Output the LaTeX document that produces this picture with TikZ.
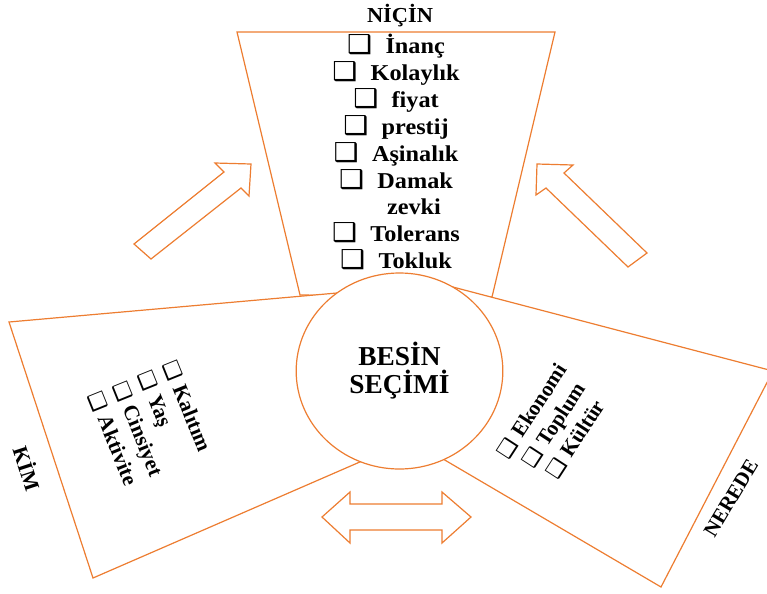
\documentclass[tikz,border=0pt]{standalone}
\usepackage{fontspec}
\usepackage{graphicx}
\setmainfont{Liberation Serif}
\newfontfamily\symfont{DejaVu Sans}
\usetikzlibrary{shapes.geometric}
\definecolor{accent}{HTML}{ED7D31}
% shadowed ballot boxes used in front of the list entries
\newcommand{\cbox}{\scalebox{1.15}{\symfont\bfseries\char"2751}}
\newcommand{\smallcbox}{{\symfont\bfseries\char"2751}}

\begin{document}
\begin{tikzpicture}[x=0.75pt,y=-0.75pt,
  panel/.style={draw=accent, fill=white, line width=0.9pt, line join=miter},
  hollowarrow/.style={draw=accent, fill=white, line width=0.9pt, line join=miter},
  heading/.style={font=\fontsize{16}{18}\selectfont\bfseries, inner sep=0},
  topitem/.style={font=\fontsize{17}{20}\selectfont\bfseries, inner sep=0, anchor=base, xscale=1.07},
  sidelist/.style={font=\fontsize{16}{20}\selectfont\bfseries, inner sep=0},
]
\useasboundingbox (0,0) rectangle (767,593);

% three panels around the centre
\draw[panel] (237,32) -- (555,32) -- (492,297) -- (300,295) -- cycle;
\draw[panel] (9,322) -- (380,289.2) -- (392,448) -- (93,578) -- cycle;
\draw[panel] (425,279.7) -- (773,371) -- (661,587) -- (410,439.6) -- cycle;

% hollow block arrows
\draw[hollowarrow] (134,244) -- (224,172) -- (215,163) -- (251,164) -- (249,196) -- (241,188) -- (151,259) -- cycle;
\draw[hollowarrow] (537,164) -- (573,165) -- (564,173) -- (647,253) -- (628,267) -- (546,188) -- (536,195) -- cycle;
\draw[hollowarrow] (322,517) -- (350,492) -- (350,504) -- (442,504) -- (442,492) -- (471,517) -- (442,543) -- (442,530) -- (350,530) -- (350,543) -- cycle;

% centre
\node[ellipse, draw=accent, fill=white, line width=0.9pt, inner sep=0,
      minimum width=155pt, minimum height=147pt, align=center,
      font=\fontsize{20.5}{21}\selectfont\bfseries] (besin) at (399.5,371) {BESİN\\SEÇİMİ};

% NİÇİN
\node[heading, anchor=base, xscale=1.05] (nicin) at (400,22) {NİÇİN};
\node[topitem] (n1) at (396,53)  {\cbox\hspace{0.55em}İnanç};
\node[topitem] (n2) at (396,80)  {\cbox\hspace{0.55em}Kolaylık};
\node[topitem] (n3) at (396,107) {\cbox\hspace{0.55em}fiyat};
\node[topitem] (n4) at (396,134) {\cbox\hspace{0.55em}prestij};
\node[topitem] (n5) at (396,161) {\cbox\hspace{0.55em}Aşinalık};
\node[topitem] (n6) at (396,188) {\cbox\hspace{0.55em}Damak};
\node[topitem] (n7) at (414,214) {zevki};
\node[topitem] (n8) at (396,241) {\cbox\hspace{0.55em}Tolerans};
\node[topitem] (n9) at (396,268) {\cbox\hspace{0.55em}Tokluk};

% KİM
\node[heading, rotate=-72] (kim) at (28,468) {KİM};
\node[sidelist, rotate=-68, anchor=west, align=left,
      font=\fontsize{16}{20.25}\selectfont\bfseries] (kimlist) at (132,377)
  {\smallcbox\hspace{0.3em}Kalıtım\\ \smallcbox\hspace{0.3em}Yaş\\ \smallcbox\hspace{0.3em}Cinsiyet\\ \smallcbox\hspace{0.3em}Aktivite};

% NEREDE
\node[heading, rotate=59, font=\fontsize{15.5}{18}\selectfont\bfseries] (nerede) at (731,498) {NEREDE};
\node[sidelist, rotate=57, anchor=center, align=center,
      font=\fontsize{16}{19.5}\selectfont\bfseries] (nerelist) at (554,425)
  {\smallcbox\hspace{0.3em}Ekonomi\\ \smallcbox\hspace{0.3em}Toplum\\ \smallcbox\hspace{0.3em}Kültür};
\end{tikzpicture}
\end{document}
